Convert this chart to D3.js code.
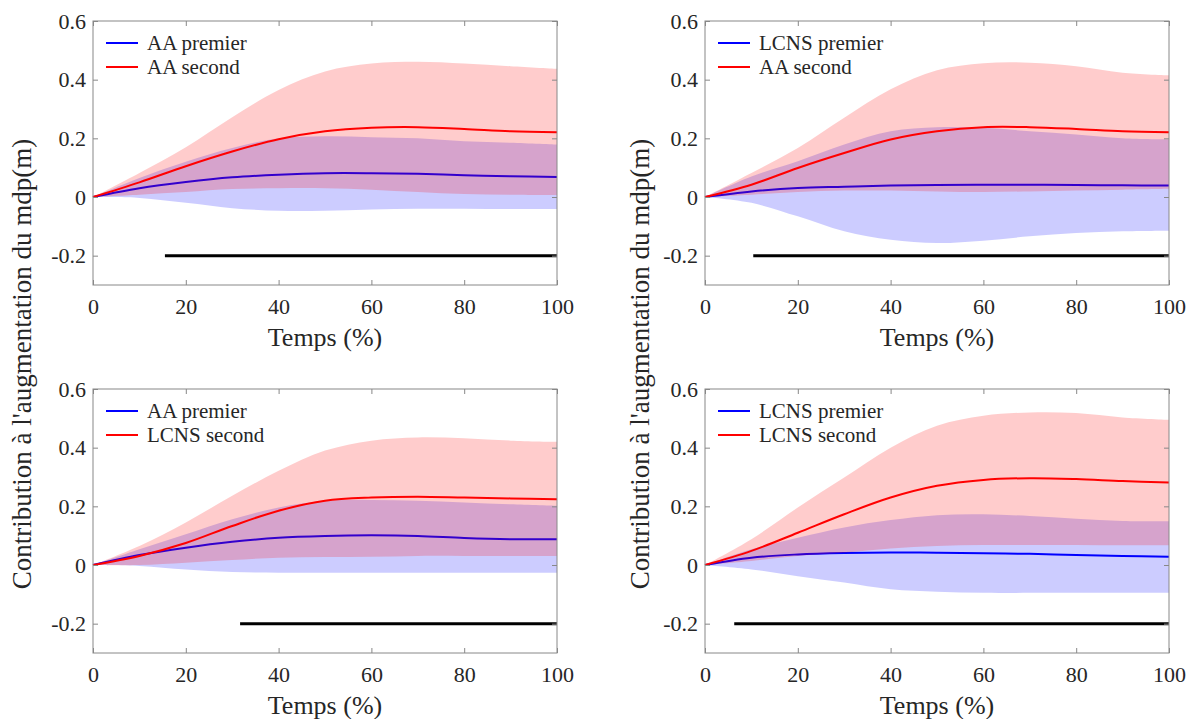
<!DOCTYPE html>
<html>
<head>
<meta charset="utf-8">
<script src="https://cdn.jsdelivr.net/npm/d3@7"></script>
<style>
  body { margin: 0; background: #fff; }
  text { font-family: "Liberation Serif", "Times New Roman", serif; fill: #262626; }
</style>
</head>
<body>
<svg width="1192" height="719"></svg>
<script>
const time = [0, 10, 20, 30, 40, 50, 60, 70, 80, 90, 100];

// haut gauche : AA premier / AA second
const p1BlueMean = [0, 0.030, 0.051, 0.067, 0.076, 0.081, 0.081, 0.079, 0.074, 0.071, 0.068];
const p1BlueLow  = [0, -0.003, -0.020, -0.038, -0.047, -0.047, -0.043, -0.040, -0.040, -0.041, -0.041];
const p1BlueHigh = [0, 0.065, 0.120, 0.167, 0.200, 0.207, 0.204, 0.200, 0.190, 0.185, 0.179];
const p1RedMean  = [0, 0.050, 0.105, 0.155, 0.197, 0.224, 0.236, 0.238, 0.232, 0.224, 0.221];
const p1RedLow   = [0, 0.008, 0.017, 0.027, 0.030, 0.030, 0.025, 0.017, 0.010, 0.008, 0.007];
const p1RedHigh  = [0, 0.082, 0.170, 0.272, 0.365, 0.428, 0.455, 0.461, 0.455, 0.446, 0.437];

// haut droite : LCNS premier / AA second
const p2BlueMean = [0, 0.019, 0.031, 0.035, 0.039, 0.041, 0.042, 0.042, 0.041, 0.040, 0.039];
const p2BlueLow  = [0, -0.020, -0.066, -0.117, -0.146, -0.157, -0.149, -0.134, -0.123, -0.117, -0.115];
const p2BlueHigh = [0, 0.070, 0.122, 0.179, 0.224, 0.238, 0.236, 0.224, 0.213, 0.200, 0.196];
const p2RedMean  = [0, 0.042, 0.099, 0.150, 0.196, 0.224, 0.238, 0.238, 0.232, 0.224, 0.221];
const p2RedLow   = [0, 0.008, 0.017, 0.022, 0.022, 0.019, 0.017, 0.019, 0.022, 0.025, 0.028];
const p2RedHigh  = [0, 0.082, 0.167, 0.270, 0.367, 0.432, 0.456, 0.458, 0.446, 0.424, 0.415];

// bas gauche : AA premier / LCNS second
const p3BlueMean = [0, 0.034, 0.059, 0.079, 0.093, 0.099, 0.101, 0.099, 0.092, 0.088, 0.088];
const p3BlueLow  = [0, -0.003, -0.015, -0.024, -0.026, -0.026, -0.026, -0.026, -0.026, -0.026, -0.026];
const p3BlueHigh = [0, 0.054, 0.105, 0.156, 0.196, 0.219, 0.222, 0.219, 0.213, 0.207, 0.202];
const p3RedMean  = [0, 0.031, 0.075, 0.133, 0.185, 0.219, 0.230, 0.233, 0.230, 0.227, 0.224];
const p3RedLow   = [0, 0.000, 0.008, 0.017, 0.025, 0.027, 0.028, 0.031, 0.031, 0.031, 0.031];
const p3RedHigh  = [0, 0.065, 0.145, 0.236, 0.321, 0.390, 0.424, 0.435, 0.432, 0.424, 0.420];

// bas droite : LCNS premier / LCNS second
const p4BlueMean = [0, 0.025, 0.036, 0.041, 0.043, 0.042, 0.040, 0.038, 0.034, 0.031, 0.028];
const p4BlueLow  = [0, -0.015, -0.038, -0.060, -0.083, -0.091, -0.095, -0.095, -0.095, -0.095, -0.095];
const p4BlueHigh = [0, 0.054, 0.093, 0.128, 0.153, 0.170, 0.173, 0.167, 0.158, 0.150, 0.149];
const p4RedMean  = [0, 0.048, 0.110, 0.173, 0.230, 0.270, 0.290, 0.296, 0.293, 0.286, 0.281];
const p4RedLow   = [0, 0.014, 0.031, 0.042, 0.056, 0.065, 0.068, 0.068, 0.068, 0.067, 0.067];
const p4RedHigh  = [0, 0.088, 0.196, 0.298, 0.400, 0.475, 0.509, 0.520, 0.518, 0.503, 0.495];

const blueLabels = ["AA premier", "LCNS premier", "AA premier", "LCNS premier"];
const redLabels  = ["AA second", "AA second", "LCNS second", "LCNS second"];
const sigStart   = [15.5, 10.4, 31.7, 6.3];
const sigLevel   = -0.2;

const xTicks = [0, 20, 40, 60, 80, 100];
const yTicks = [-0.2, 0, 0.2, 0.4, 0.6];

const plotW = 464, plotH = 264;
const panelPos = [[93, 21], [705, 21], [93, 389], [705, 389]];

const panels = [
  [p1BlueMean, p1BlueLow, p1BlueHigh, p1RedMean, p1RedLow, p1RedHigh],
  [p2BlueMean, p2BlueLow, p2BlueHigh, p2RedMean, p2RedLow, p2RedHigh],
  [p3BlueMean, p3BlueLow, p3BlueHigh, p3RedMean, p3RedLow, p3RedHigh],
  [p4BlueMean, p4BlueLow, p4BlueHigh, p4RedMean, p4RedLow, p4RedHigh]
];

const svg = d3.select("svg");
const smooth = d3.curveCatmullRom.alpha(0.5);

panels.forEach((p, i) => {
  const [left, top] = panelPos[i];
  const x = d3.scaleLinear().domain([0, 100]).range([left, left + plotW]);
  const y = d3.scaleLinear().domain([-0.3, 0.6]).range([top + plotH, top]);

  const g = svg.append("g");

  const band = (lo, hi) => d3.area()
    .x((d, k) => x(time[k]))
    .y0((d, k) => y(lo[k]))
    .y1((d, k) => y(hi[k]))
    .curve(smooth)(time);

  const line = vals => d3.line()
    .x((d, k) => x(time[k]))
    .y((d, k) => y(vals[k]))
    .curve(smooth)(time);

  const [bm, bl, bh, rm, rl, rh] = p;

  g.append("path").attr("d", band(bl, bh))
    .attr("fill", "#0000ff").attr("fill-opacity", 0.2);
  g.append("path").attr("d", line(bm))
    .attr("fill", "none").attr("stroke", "#0000ff").attr("stroke-width", 2);
  g.append("path").attr("d", band(rl, rh))
    .attr("fill", "#ff0000").attr("fill-opacity", 0.2);
  g.append("path").attr("d", line(rm))
    .attr("fill", "none").attr("stroke", "#ff0000").attr("stroke-width", 2);

  // segment significatif
  g.append("line")
    .attr("x1", x(sigStart[i])).attr("x2", x(100))
    .attr("y1", y(sigLevel)).attr("y2", y(sigLevel))
    .attr("stroke", "#000").attr("stroke-width", 3);

  // axes
  const fmt = d => d === 0 ? "0" : d.toFixed(1);
  const axes = [
    [d3.axisBottom(x).tickValues(xTicks).tickPadding(13), `translate(0,${top + plotH})`],
    [d3.axisTop(x).tickValues(xTicks).tickFormat(""), `translate(0,${top})`],
    [d3.axisLeft(y).tickValues(yTicks).tickFormat(fmt).tickPadding(7), `translate(${left},0)`],
    [d3.axisRight(y).tickValues(yTicks).tickFormat(""), `translate(${left + plotW},0)`]
  ];
  axes.forEach(([ax, tr]) => {
    const a = g.append("g").attr("transform", tr)
      .call(ax.tickSizeInner(-5).tickSizeOuter(0));
    a.select(".domain").remove();
    a.selectAll(".tick line").attr("stroke", "#888");
    a.selectAll(".tick text").style("font-size", "22px").attr("fill", "#262626");
  });

  g.append("rect")
    .attr("x", left).attr("y", top).attr("width", plotW).attr("height", plotH)
    .attr("fill", "none").attr("stroke", "#888").attr("stroke-width", 1);

  g.append("text")
    .attr("x", left + plotW / 2).attr("y", top + plotH + 61)
    .attr("text-anchor", "middle").style("font-size", "26px")
    .text("Temps (%)");

  // légende
  const leg = [[blueLabels[i], "#0000ff", 22], [redLabels[i], "#ff0000", 46]];
  leg.forEach(([label, color, dy]) => {
    g.append("line")
      .attr("x1", left + 13).attr("x2", left + 45)
      .attr("y1", top + dy).attr("y2", top + dy)
      .attr("stroke", color).attr("stroke-width", 2);
    g.append("text")
      .attr("x", left + 54).attr("y", top + dy + 7)
      .style("font-size", "21px").text(label);
  });
});

[31, 649].forEach(cx => {
  svg.append("text")
    .attr("transform", `translate(${cx},364) rotate(-90)`)
    .attr("text-anchor", "middle").style("font-size", "27px")
    .text("Contribution à l'augmentation du mdp(m)");
});
</script>
</body>
</html>
